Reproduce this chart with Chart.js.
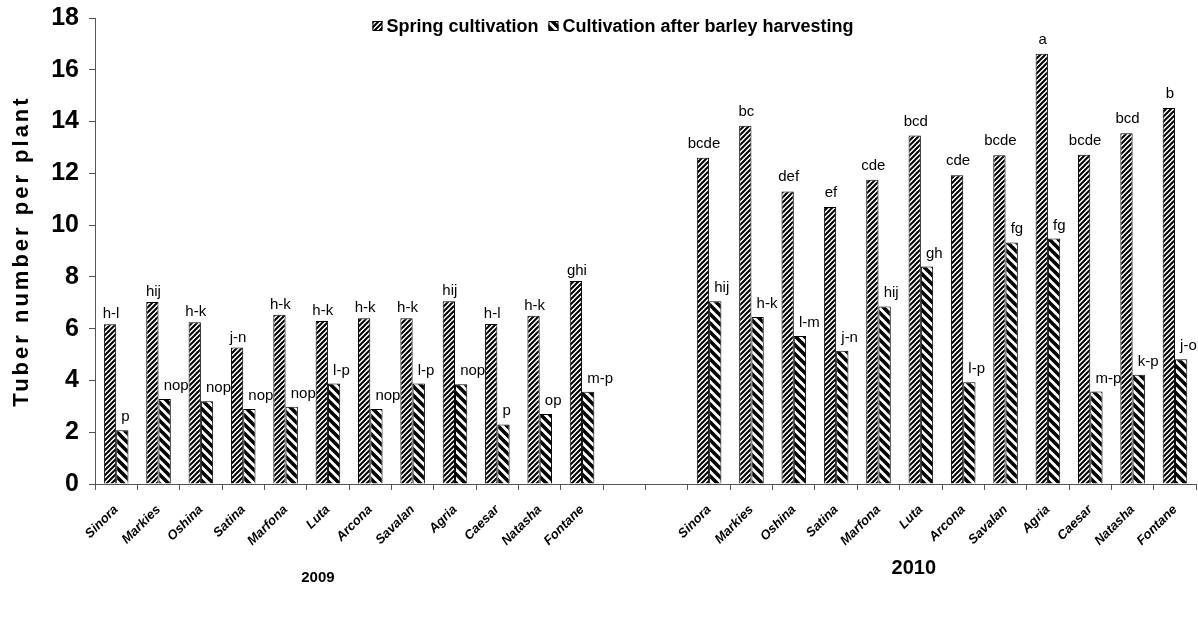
<!DOCTYPE html>
<html>
<head>
<meta charset="utf-8">
<script src="https://cdn.jsdelivr.net/npm/chart.js@4"></script>
<style>
  html, body { margin: 0; padding: 0; background: #fff; }
  #wrap { width: 1198px; height: 619px; }
</style>
</head>
<body>
<div id="wrap"><canvas id="tubers"></canvas></div>
<script>
const varieties = ['Sinora', 'Markies', 'Oshina', 'Satina', 'Marfona', 'Luta', 'Arcona', 'Savalan', 'Agria', 'Caesar', 'Natasha', 'Fontane'];
const years = ['2009', '2010'];
const seriesNames = ['Spring cultivation', 'Cultivation after barley harvesting'];
const yTitle = 'Tuber number per plant';

const spring2009 = [6.17, 7.03, 6.25, 5.27, 6.54, 6.3, 6.4, 6.4, 7.06, 6.18, 6.5, 7.84];
const after2009 = [2.08, 3.28, 3.2, 2.9, 2.98, 3.88, 2.9, 3.88, 3.85, 2.3, 2.7, 3.56];
const spring2010 = [12.6, 13.84, 11.3, 10.7, 11.75, 13.46, 11.93, 12.7, 16.62, 12.72, 13.55, 14.52];
const after2010 = [7.06, 6.45, 5.72, 5.15, 6.86, 8.4, 3.93, 9.33, 9.48, 3.57, 4.22, 4.82];

const springLetters2009 = ['h-l', 'hij', 'h-k', 'j-n', 'h-k', 'h-k', 'h-k', 'h-k', 'hij', 'h-l', 'h-k', 'ghi'];
const afterLetters2009 = ['p', 'nop', 'nop', 'nop', 'nop', 'l-p', 'nop', 'l-p', 'nop', 'p', 'op', 'm-p'];
const springLetters2010 = ['bcde', 'bc', 'def', 'ef', 'cde', 'bcd', 'cde', 'bcde', 'a', 'bcde', 'bcd', 'b'];
const afterLetters2010 = ['hij', 'h-k', 'l-m', 'j-n', 'hij', 'gh', 'l-p', 'fg', 'fg', 'm-p', 'k-p', 'j-o'];

// two empty slots separate the years
const gap = ['', ''];
const labels = [...varieties, ...gap, ...varieties];
const springData = [...spring2009, null, null, ...spring2010];
const afterData = [...after2009, null, null, ...after2010];
const springLetters = [...springLetters2009, null, null, ...springLetters2010];
const afterLetters = [...afterLetters2009, null, null, ...afterLetters2010];

const sans = "'Liberation Sans', Arial, sans-serif";

function hatch(size, width, back) {
    const c = document.createElement('canvas');
    c.width = size; c.height = size;
    const g = c.getContext('2d');
    g.fillStyle = '#fff';
    g.fillRect(0, 0, size, size);
    g.strokeStyle = '#000';
    g.lineWidth = width;
    g.beginPath();
    if (back) {
        g.moveTo(-size, 0); g.lineTo(2 * size, 3 * size);
        g.moveTo(-size, -size); g.lineTo(2 * size, 2 * size);
        g.moveTo(0, -size); g.lineTo(3 * size, 2 * size);
    } else {
        g.moveTo(-size, size); g.lineTo(size, -size);
        g.moveTo(0, 2 * size); g.lineTo(2 * size, 0);
        g.moveTo(-size, 2 * size); g.lineTo(2 * size, -size);
    }
    g.stroke();
    return g.createPattern(c, 'repeat');
}

const springFill = hatch(5, 2, false);
const afterFill = hatch(9, 3.6, true);

const letterLabels = {
    id: 'letterLabels',
    afterDatasetsDraw(chart) {
        const ctx = chart.ctx;
        ctx.save();
        ctx.font = '15px ' + sans;
        ctx.fillStyle = '#000';
        ctx.textBaseline = 'alphabetic';
        chart.getDatasetMeta(0).data.forEach((bar, j) => {
            if (!springLetters[j]) return;
            ctx.textAlign = 'center';
            ctx.fillText(springLetters[j], bar.x + 1, bar.y - (j > 12 ? 10 : 6));
        });
        chart.getDatasetMeta(1).data.forEach((bar, j) => {
            if (!afterLetters[j]) return;
            ctx.textAlign = 'left';
            ctx.fillText(afterLetters[j], bar.x - 1, bar.y - 9);
        });
        ctx.restore();
    }
};

const decorations = {
    id: 'decorations',
    afterDraw(chart) {
        const x = chart.scales.x;
        const area = chart.chartArea;
        const ctx = chart.ctx;
        ctx.save();
        ctx.fillStyle = '#000';
        ctx.textBaseline = 'middle';

        // years under the variety names
        ctx.textAlign = 'center';
        ctx.font = 'bold 15px ' + sans;
        ctx.fillText(years[0], x.getPixelForValue(5) - 10, 578);
        ctx.font = 'bold 20px ' + sans;
        ctx.fillText(years[1], x.getPixelForValue(19) - 7, 568);

        // y axis title, spaced out
        ctx.save();
        ctx.translate(22, (area.top + area.bottom) / 2);
        ctx.rotate(-Math.PI / 2);
        ctx.font = 'bold 22px ' + sans;
        ctx.letterSpacing = '3px';
        ctx.fillText(yTitle, 0, 0);
        ctx.restore();

        // legend inside the plot, top
        ctx.font = 'bold 18px ' + sans;
        ctx.textAlign = 'left';
        const fills = [springFill, afterFill];
        const parts = seriesNames.map(n => ctx.measureText(n).width);
        const total = parts[0] + parts[1] + 2 * 14 + 10;
        let lx = 613 - total / 2;
        const ly = 26;
        seriesNames.forEach((name, i) => {
            ctx.fillStyle = fills[i];
            ctx.fillRect(lx, ly - 5, 10, 10);
            ctx.strokeStyle = '#000';
            ctx.lineWidth = 1;
            ctx.strokeRect(lx + 0.5, ly - 4.5, 9, 9);
            ctx.fillStyle = '#000';
            ctx.fillText(name, lx + 14, ly + 1);
            lx += 14 + parts[i] + 10;
        });
        ctx.restore();
    }
};

new Chart(document.getElementById('tubers'), {
    type: 'bar',
    data: {
        labels: labels,
        datasets: [
            { label: seriesNames[0], data: springData, backgroundColor: springFill, borderColor: '#000', borderWidth: 1 },
            { label: seriesNames[1], data: afterData, backgroundColor: afterFill, borderColor: '#000', borderWidth: 1 }
        ]
    },
    options: {
        responsive: true,
        maintainAspectRatio: false,
        animation: false,
        devicePixelRatio: 1,
        layout: { padding: { top: 18, right: 0, bottom: 0, left: 0 } },
        datasets: { bar: { categoryPercentage: 0.58, barPercentage: 1.0 } },
        scales: {
            x: {
                afterFit: s => { s.height = 135; },
                border: { color: '#555', width: 1 },
                grid: { offset: true, drawOnChartArea: false, tickLength: 6, color: '#555' },
                ticks: {
                    autoSkip: false, minRotation: 45, maxRotation: 45, padding: 12,
                    color: '#000', font: { family: sans, size: 13, weight: 'bold', style: 'italic' }
                }
            },
            y: {
                min: 0, max: 18,
                afterFit: s => { s.width = 95; s.paddingTop = 0; s.paddingBottom = 0; },
                border: { color: '#555', width: 1 },
                grid: { drawOnChartArea: false, tickLength: 6, color: '#555' },
                ticks: {
                    stepSize: 2, padding: 10, color: '#000',
                    font: { family: sans, size: 25, weight: 'bold' }
                }
            }
        },
        plugins: {
            legend: { display: false },
            tooltip: { enabled: false }
        }
    },
    plugins: [letterLabels, decorations]
});
</script>
</body>
</html>
